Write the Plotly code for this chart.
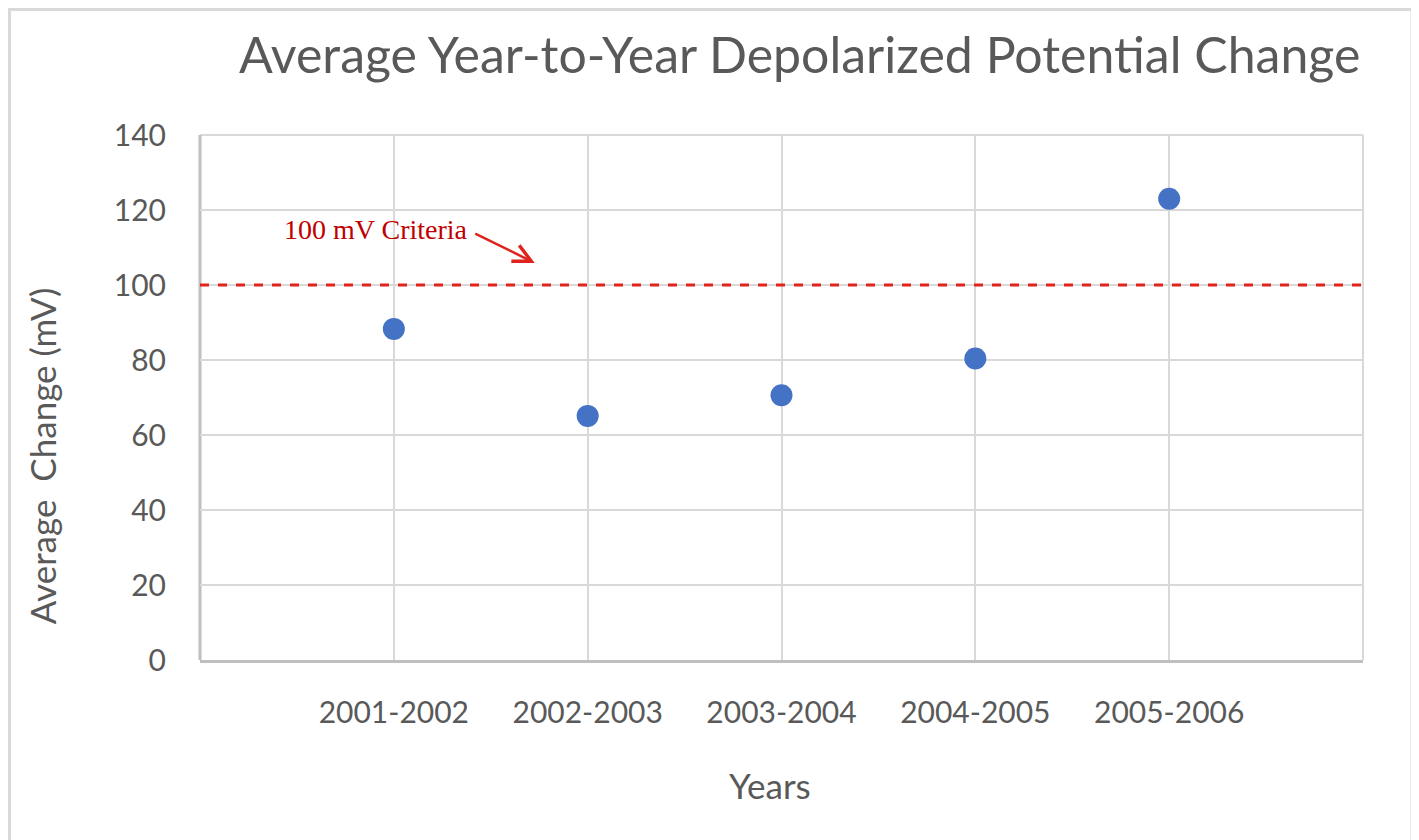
import plotly.graph_objects as go

periods = ["2001-2002", "2002-2003", "2003-2004", "2004-2005", "2005-2006"]
avg_change = [88.3, 65.1, 70.6, 80.4, 123.0]
criteria_value = [100]
criteria_label = ["100 mV Criteria"]
y_ticks = [0, 20, 40, 60, 80, 100, 120, 140]

FONT = "Lato"
GREY = "#595959"
GRID = "#d9d9d9"

fig = go.Figure()
fig.add_trace(go.Scatter(
    x=list(range(len(periods))), y=avg_change, mode="markers",
    marker=dict(size=22, color="#4472c4"),
    showlegend=False, hoverinfo="y",
))

fig.update_layout(
    width=1411, height=832,
    paper_bgcolor="white", plot_bgcolor="white",
    margin=dict(l=192, r=56, t=127, b=180),
    font=dict(family=FONT, color=GREY),
    xaxis=dict(
        range=[-1, len(periods)],
        tickmode="array", tickvals=list(range(len(periods))), ticktext=periods,
        showgrid=True, gridcolor=GRID, gridwidth=2,
        showline=True, linecolor="#bfbfbf", linewidth=3, mirror=False,
        zeroline=False, ticks="", tickfont=dict(size=30, color=GREY, family=FONT),
        ticklabelstandoff=24,
    ),
    yaxis=dict(
        range=[0, 140], tickvals=y_ticks,
        showgrid=True, gridcolor=GRID, gridwidth=2,
        zeroline=False, showline=False, ticks="",
        tickfont=dict(size=30, color=GREY, family=FONT),
        ticklabelstandoff=33,
    ),
    shapes=[
        dict(type="rect", xref="paper", yref="paper",
             x0=-0.1638, x1=1.0421, y0=-0.4, y1=1.239,
             line=dict(color="#d9d9d9", width=3), fillcolor="rgba(0,0,0,0)", layer="below"),
        dict(type="line", xref="paper", yref="y", x0=0, x1=1,
             y0=criteria_value[0], y1=criteria_value[0],
             line=dict(color="#e0231d", width=3, dash="dash")),
        dict(type="line", xref="paper", yref="paper", x0=1, x1=1, y0=0, y1=1,
             line=dict(color=GRID, width=2), layer="below"),
        dict(type="line", xref="paper", yref="paper", x0=0, x1=1, y0=1, y1=1,
             line=dict(color=GRID, width=2), layer="below"),
        dict(type="line", xref="paper", yref="paper", x0=0, x1=0, y0=0, y1=1,
             line=dict(color="#bfbfbf", width=3), layer="below"),
    ],
    annotations=[
        dict(text="Average Year-to-Year Depolarized Potential Change",
             xref="paper", yref="paper", x=0.5155, y=1.155, xanchor="center",
             yanchor="middle", showarrow=False,
             font=dict(size=50, color=GREY, family=FONT)),
        dict(text="Years", xref="paper", yref="paper", x=0.4905, y=-0.238,
             xanchor="center", yanchor="middle",
             showarrow=False, font=dict(size=35, color=GREY, family=FONT)),
        dict(text="Average  Change (mV)", xref="paper", yref="paper",
             x=-0.1359, y=0.390, textangle=-90, showarrow=False,
             xanchor="center", yanchor="middle",
             font=dict(size=35, color=GREY, family=FONT)),
        dict(text=criteria_label[0], xref="x", yref="y",
             x=-0.093, y=114.9, showarrow=False, xanchor="center", yanchor="middle",
             font=dict(size=28, color="#c00000", family="Liberation Serif")),
        dict(text="", xref="x", yref="y", x=0.727, y=105.9,
             ax=-61, ay=-30, showarrow=True, arrowhead=5, arrowsize=1.4,
             arrowwidth=2.5, arrowcolor="#e0231d"),
    ],
)

fig.write_html("out.html")
